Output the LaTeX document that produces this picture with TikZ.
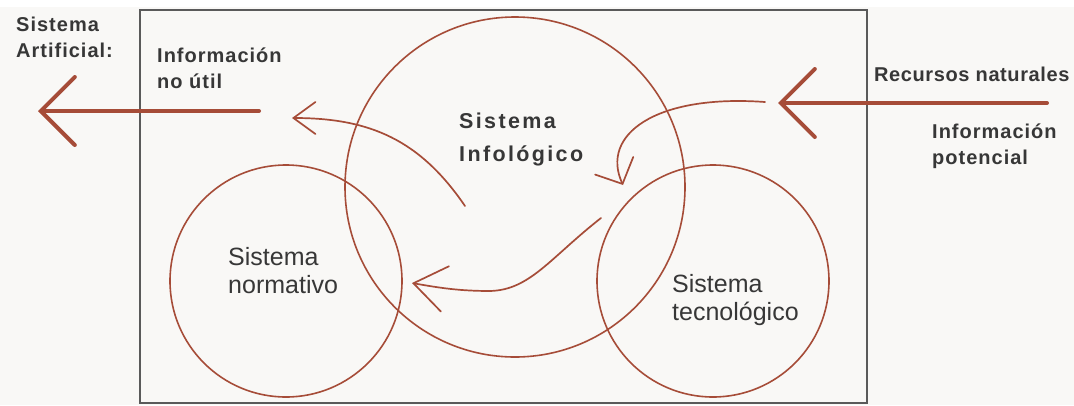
\documentclass[tikz,border=0pt]{standalone}
\usepackage{fontspec}
\setmainfont{Liberation Sans}
\newfontfamily\labfont[LetterSpace=5]{Liberation Sans}
\newfontfamily\tightfont[LetterSpace=3]{Liberation Sans}
\newfontfamily\infofont[LetterSpace=11]{Liberation Sans}
\usetikzlibrary{arrows.meta}
\definecolor{bgc}{RGB}{249,248,246}
\definecolor{brn}{RGB}{166,76,56}
\definecolor{txtc}{RGB}{55,55,55}
\definecolor{framec}{RGB}{90,90,90}
\tikzset{
  sysring/.style={draw=brn, line width=1.6pt, circle, inner sep=0pt},
  sysbox/.style={draw=framec, line width=2pt, inner sep=0pt},
  boldlab/.style={text=txtc, anchor=base west, align=left, inner sep=0pt,
    font=\labfont\bfseries\fontsize{20}{26}\selectfont},
  infolab/.style={text=txtc, anchor=base west, align=left, inner sep=0pt,
    font=\infofont\bfseries\fontsize{21.5}{33}\selectfont},
  reglab/.style={text=txtc, anchor=base west, align=left, inner sep=0pt,
    font=\fontsize{25}{28}\selectfont},
  bigarrow/.style={draw=brn, line width=4pt, line cap=round,
    -{Straight Barb[length=34pt, width=68pt, line cap=round]}},
  flowarrow/.style={draw=brn, line width=1.7pt, line cap=round}
}
\begin{document}
\begin{tikzpicture}[x=1pt, y=-1pt]
\useasboundingbox (0,0) rectangle (1074,405);
\fill[bgc] (0,0) rectangle (1074,405);
\fill[white] (0,0) rectangle (1074,7);

\node[sysbox, minimum width=727pt, minimum height=393pt] (box) at (503.5,206.5) {};

\node[sysring, minimum size=340pt] (info) at (515,187) {};
\node[sysring, minimum size=232pt] (norm) at (286,281) {};
\node[sysring, minimum size=232pt] (tec) at (713,281) {};

% labels (anchored at the baseline of their last line)
\node[boldlab] (artif) at (16,57) {Sistema\\Artificial:};
\node[boldlab] (noutil) at (157,88) {Información\\no útil};
\node[boldlab, font=\tightfont\bfseries\fontsize{20}{26}\selectfont] (recursos) at (874,81) {Recursos naturales};
\node[boldlab] (potencial) at (932,164) {Información\\potencial};
\node[infolab] (infotxt) at (459,161) {Sistema\\Infológico};
\node[reglab] (normtxt) at (228,293) {Sistema\\normativo};
\node[reglab] (tectxt) at (672,320) {Sistema\\tecnológico};

% connector end points
\coordinate (outS) at (259,111);
\coordinate (outE) at (38,111);
\coordinate (inS) at (1047,103);
\coordinate (inE) at (778,103);
\coordinate (a1S) at (465,206);
\coordinate (a1E) at (292,118);
\coordinate (a2S) at (765,102);
\coordinate (a2E) at (623,185);
\coordinate (a3S) at (601,218);
\coordinate (a3M) at (490,291);
\coordinate (a3E) at (412,283);

\draw[bigarrow] (outS) -- (outE);
\draw[bigarrow] (inS) -- (inE);

\draw[flowarrow, -{Straight Barb[length=22pt, width=32pt, line cap=round]}]
  (a1S) .. controls (420,140) and (370,118) .. (a1E);
\draw[flowarrow, -{Straight Barb[length=20pt, width=42pt, line cap=round]}]
  (a2S) .. controls (655,94) and (600,135) .. (a2E);
\draw[flowarrow, -{Straight Barb[length=32pt, width=46pt, line cap=round]}]
  (a3S) .. controls (550,258) and (530,290) .. (a3M)
        .. controls (460,291) and (440,288) .. (a3E);
\end{tikzpicture}
\end{document}
